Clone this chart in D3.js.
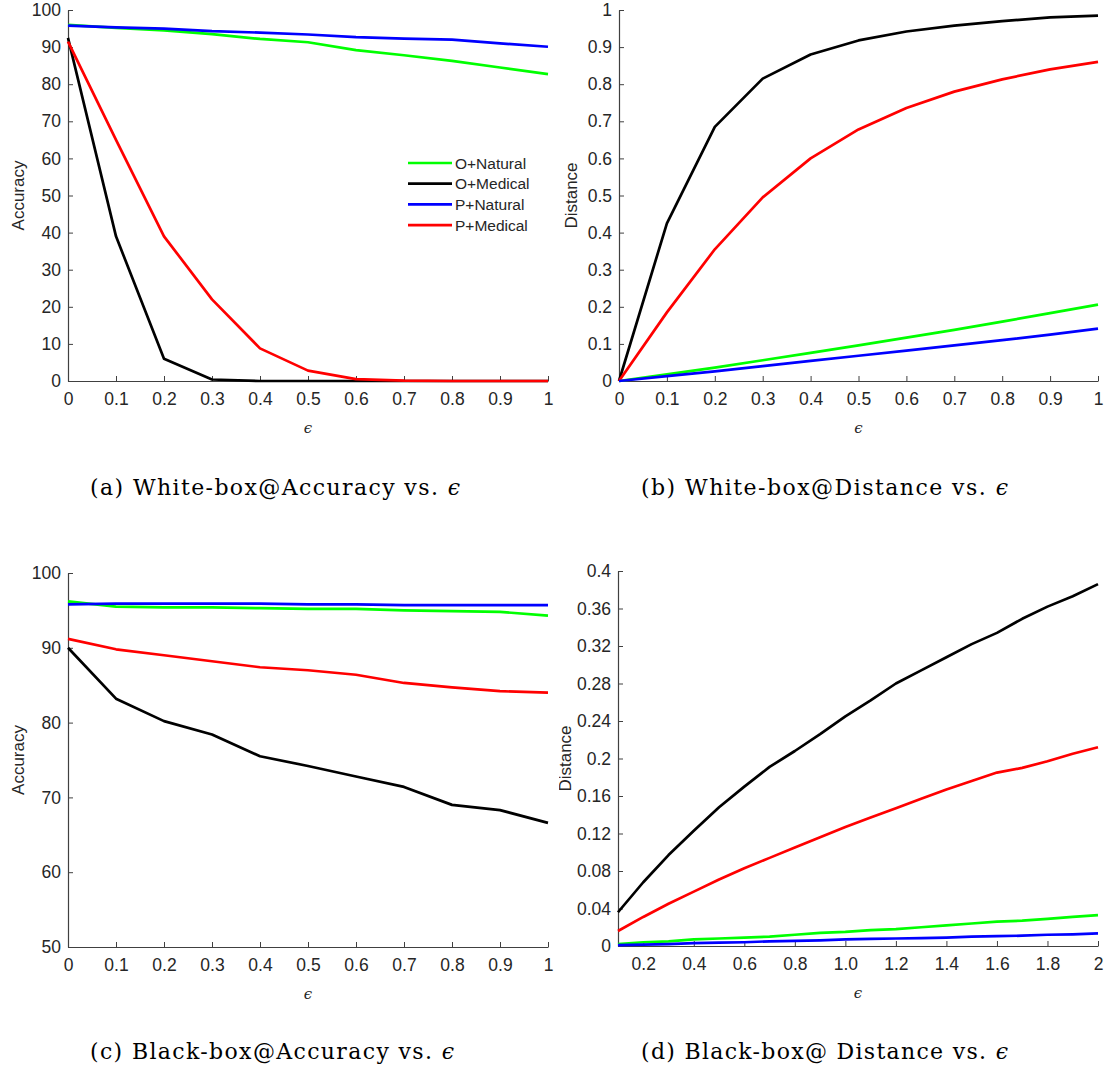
<!DOCTYPE html>
<html>
<head>
<meta charset="utf-8">
<script src="https://cdn.jsdelivr.net/npm/d3@7"></script>
<style>
  body { margin: 0; background: #fff; }
  .tick text { font-family: "Liberation Sans", Arial, sans-serif; font-size: 17.5px; fill: #262626; }
  .axisText { font-family: "Liberation Sans", Arial, sans-serif; font-size: 17px; fill: #262626; }
  .caption { font-family: "DejaVu Serif", "Liberation Serif", serif; font-size: 22px; fill: #000; }
</style>
</head>
<body>
<div class="chart"></div>
<script>
let svgWidth = 1104;
let svgHeight = 1072;

let seriesNames = ["O+Natural", "O+Medical", "P+Natural", "P+Medical"];
let seriesColors = ["#00ff00", "#000000", "#0000ff", "#ff0000"];

// panels a, b, c share epsilon 0..1
let epsA = [0, 0.1, 0.2, 0.3, 0.4, 0.5, 0.6, 0.7, 0.8, 0.9, 1];
// panel d epsilon 0.1..2
let epsD = [0.1, 0.2, 0.3, 0.4, 0.5, 0.6, 0.7, 0.8, 0.9, 1.0,
            1.1, 1.2, 1.3, 1.4, 1.5, 1.6, 1.7, 1.8, 1.9, 2.0];

// (a) white-box accuracy
let accWhiteONatural = [96.0, 95.2, 94.5, 93.5, 92.2, 91.3, 89.2, 87.8, 86.3, 84.5, 82.7];
let accWhiteOMedical = [92.5, 39.0, 6.0, 0.4, 0.0, 0.0, 0.0, 0.0, 0.0, 0.0, 0.0];
let accWhitePNatural = [95.8, 95.3, 95.0, 94.3, 93.9, 93.4, 92.7, 92.3, 92.0, 91.0, 90.1];
let accWhitePMedical = [91.5, 65.0, 39.0, 22.0, 8.8, 2.8, 0.5, 0.1, 0.0, 0.0, 0.0];

// (b) white-box distance
let distWhiteONatural = [0, 0.018, 0.036, 0.056, 0.076, 0.096, 0.117, 0.138, 0.160, 0.183, 0.206];
let distWhiteOMedical = [0, 0.425, 0.685, 0.815, 0.880, 0.918, 0.942, 0.958, 0.970, 0.980, 0.985];
let distWhitePNatural = [0, 0.013, 0.026, 0.040, 0.054, 0.068, 0.082, 0.096, 0.110, 0.125, 0.141];
let distWhitePMedical = [0, 0.185, 0.355, 0.495, 0.600, 0.678, 0.736, 0.780, 0.813, 0.840, 0.860];

// (c) black-box accuracy
let accBlackONatural = [96.2, 95.5, 95.4, 95.4, 95.3, 95.2, 95.2, 95.0, 94.9, 94.8, 94.3];
let accBlackOMedical = [90.0, 83.2, 80.2, 78.4, 75.5, 74.2, 72.8, 71.4, 69.0, 68.3, 66.6];
let accBlackPNatural = [95.8, 95.9, 95.9, 95.9, 95.9, 95.8, 95.8, 95.7, 95.7, 95.7, 95.7];
let accBlackPMedical = [91.2, 89.8, 89.0, 88.2, 87.4, 87.0, 86.4, 85.3, 84.7, 84.2, 84.0];

// (d) black-box distance
let distBlackONatural = [0.002, 0.004, 0.005, 0.007, 0.008, 0.009, 0.010, 0.012, 0.014, 0.015,
                         0.017, 0.018, 0.020, 0.022, 0.024, 0.026, 0.027, 0.029, 0.031, 0.033];
let distBlackOMedical = [0.036, 0.068, 0.097, 0.123, 0.148, 0.170, 0.191, 0.208, 0.226, 0.245,
                         0.262, 0.280, 0.294, 0.308, 0.322, 0.334, 0.349, 0.362, 0.373, 0.386];
let distBlackPNatural = [0.001, 0.0015, 0.002, 0.003, 0.0035, 0.004, 0.005, 0.0055, 0.006, 0.007,
                         0.0075, 0.008, 0.0085, 0.009, 0.010, 0.0105, 0.011, 0.012, 0.0125, 0.0135];
let distBlackPMedical = [0.016, 0.031, 0.045, 0.058, 0.071, 0.083, 0.094, 0.105, 0.116, 0.127,
                         0.137, 0.147, 0.157, 0.167, 0.176, 0.185, 0.190, 0.197, 0.205, 0.212];

let ticksUnit = [0, 0.1, 0.2, 0.3, 0.4, 0.5, 0.6, 0.7, 0.8, 0.9, 1];
let tickLabelsUnit = ["0", "0.1", "0.2", "0.3", "0.4", "0.5", "0.6", "0.7", "0.8", "0.9", "1"];
let ticksD = [0.2, 0.4, 0.6, 0.8, 1.0, 1.2, 1.4, 1.6, 1.8, 2.0];
let tickLabelsD = ["0.2", "0.4", "0.6", "0.8", "1.0", "1.2", "1.4", "1.6", "1.8", "2"];
let yTicksAccA = [0, 10, 20, 30, 40, 50, 60, 70, 80, 90, 100];
let yTicksAccC = [50, 60, 70, 80, 90, 100];
let yTicksDistD = [0, 0.04, 0.08, 0.12, 0.16, 0.2, 0.24, 0.28, 0.32, 0.36, 0.4];
let yTickLabelsDistD = ["0", "0.04", "0.08", "0.12", "0.16", "0.2", "0.24", "0.28", "0.32", "0.36", "0.4"];

let svg = d3.select(".chart")
  .append("svg")
  .attr("width", svgWidth)
  .attr("height", svgHeight);

// clip for the half-hidden y label of panel (d)
svg.append("clipPath").attr("id", "clipD")
  .append("rect").attr("x", 559).attr("y", 560).attr("width", 100).attr("height", 400);

function drawPanel(p) {
  let width = p.x1 - p.x0;
  let height = p.y1 - p.y0;
  let g = svg.append("g").attr("transform", `translate(${p.x0}, ${p.y0})`);

  let x = d3.scaleLinear().domain(p.xDomain).range([0, width]);
  let y = d3.scaleLinear().domain(p.yDomain).range([height, 0]);

  let xAxis = d3.axisBottom(x)
    .tickValues(p.xTicks)
    .tickFormat((d, i) => p.xLabels[i])
    .tickSizeInner(-5).tickSizeOuter(0).tickPadding(12);
  let yAxis = d3.axisLeft(y)
    .tickValues(p.yTicks)
    .tickFormat((d, i) => p.yLabels ? p.yLabels[i] : d)
    .tickSizeInner(-5).tickSizeOuter(0).tickPadding(7);

  let gx = g.append("g").attr("transform", `translate(0, ${height})`).call(xAxis);
  let gy = g.append("g").call(yAxis);
  [gx, gy].forEach(a => {
    a.selectAll(".domain").attr("stroke", "#404040").attr("stroke-width", 1.2);
    a.selectAll(".tick line").attr("stroke", "#404040");
  });

  let line = d3.line().x((d, i) => x(p.xs[i])).y(d => y(d));
  p.series.forEach((s, i) => {
    g.append("path")
      .datum(s)
      .attr("fill", "none")
      .attr("stroke", seriesColors[i])
      .attr("stroke-width", 2.7)
      .attr("stroke-linejoin", "round")
      .attr("d", line);
  });
  // blue sits on top where curves overlap
  g.selectAll("path").filter(function() { return d3.select(this).attr("stroke") === "#0000ff"; }).raise();

  // x label
  g.append("text")
    .attr("x", width / 2)
    .attr("y", height + 52)
    .attr("text-anchor", "middle")
    .attr("class", "axisText")
    .style("font-family", "'DejaVu Serif', serif")
    .style("font-style", "italic")
    .style("font-size", "15px")
    .text("\u03f5");

  // y label
  let ylg = svg.append("g");
  if (p.clipYLabel) ylg.attr("clip-path", "url(#clipD)");
  ylg.append("text")
    .attr("transform", `translate(${p.yLabelX}, ${p.y0 + height / 2}) rotate(-90)`)
    .attr("text-anchor", "middle")
    .attr("class", "axisText")
    .text(p.yLabel);

  // caption
  let cap = svg.append("text")
    .attr("x", p.capX)
    .attr("y", p.capY)
    .attr("class", "caption")
    .attr("textLength", p.capW)
    .attr("lengthAdjust", "spacing");
  cap.append("tspan").text(p.caption + " ");
  cap.append("tspan").style("font-style", "italic").text("\u03f5");

  return { g, x, y };
}

let panelA = drawPanel({
  x0: 68, x1: 548, y0: 10, y1: 381,
  xDomain: [0, 1], yDomain: [0, 100],
  xTicks: ticksUnit, xLabels: tickLabelsUnit, yTicks: yTicksAccA,
  xs: epsA,
  series: [accWhiteONatural, accWhiteOMedical, accWhitePNatural, accWhitePMedical],
  yLabel: "Accuracy", yLabelX: 24,
  caption: "(a) White-box@Accuracy vs.", capX: 90, capY: 495, capW: 370
});

drawPanel({
  x0: 619, x1: 1098, y0: 10, y1: 381,
  xDomain: [0, 1], yDomain: [0, 1],
  xTicks: ticksUnit, xLabels: tickLabelsUnit, yTicks: ticksUnit, yLabels: tickLabelsUnit,
  xs: epsA,
  series: [distWhiteONatural, distWhiteOMedical, distWhitePNatural, distWhitePMedical],
  yLabel: "Distance", yLabelX: 577,
  caption: "(b) White-box@Distance vs.", capX: 641, capY: 495, capW: 367
});

drawPanel({
  x0: 68, x1: 548, y0: 573, y1: 947,
  xDomain: [0, 1], yDomain: [50, 100],
  xTicks: ticksUnit, xLabels: tickLabelsUnit, yTicks: yTicksAccC,
  xs: epsA,
  series: [accBlackONatural, accBlackOMedical, accBlackPNatural, accBlackPMedical],
  yLabel: "Accuracy", yLabelX: 24,
  caption: "(c) Black-box@Accuracy vs.", capX: 90, capY: 1059, capW: 364
});

drawPanel({
  x0: 618, x1: 1098, y0: 571, y1: 946,
  xDomain: [0.1, 2], yDomain: [0, 0.4],
  xTicks: ticksD, xLabels: tickLabelsD, yTicks: yTicksDistD, yLabels: yTickLabelsDistD,
  xs: epsD,
  series: [distBlackONatural, distBlackOMedical, distBlackPNatural, distBlackPMedical],
  yLabel: "Distance", yLabelX: 571, clipYLabel: true,
  caption: "(d) Black-box@ Distance vs.", capX: 641, capY: 1059, capW: 367
});

// legend in panel (a)
let legend = panelA.g.append("g").attr("transform", "translate(340, 153)");
seriesNames.forEach((name, i) => {
  let row = legend.append("g").attr("transform", `translate(0, ${i * 20.7})`);
  row.append("line")
    .attr("x1", 0).attr("x2", 44)
    .attr("y1", 0).attr("y2", 0)
    .attr("stroke", seriesColors[i])
    .attr("stroke-width", 2.7);
  row.append("text")
    .attr("x", 47).attr("y", 5.5)
    .attr("class", "axisText")
    .style("font-size", "15.5px")
    .text(name);
});
</script>
</body>
</html>
